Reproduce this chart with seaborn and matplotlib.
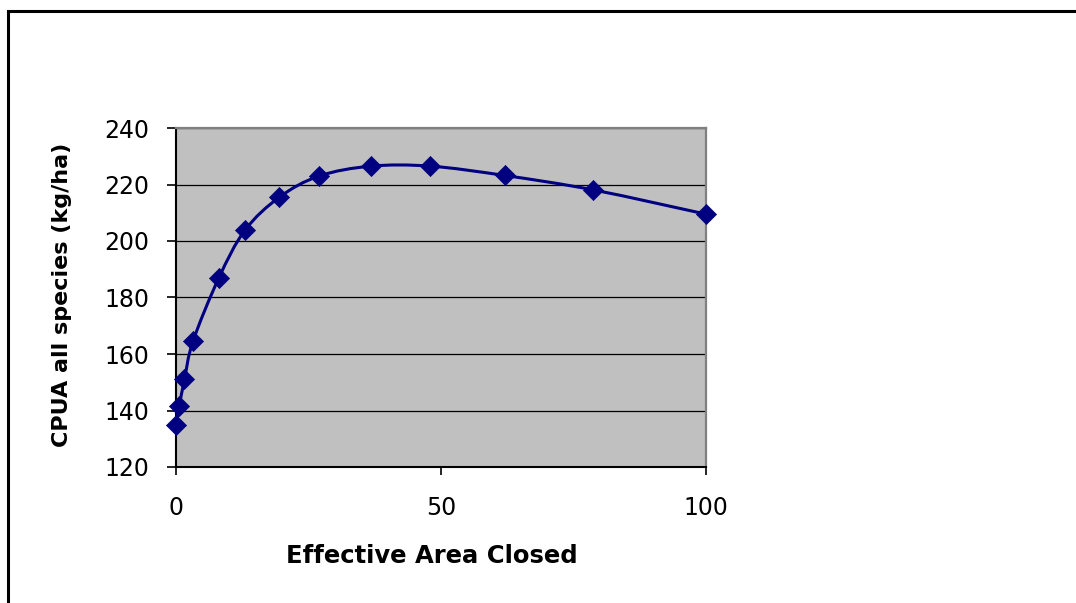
import numpy as np
import pandas as pd
import matplotlib
matplotlib.use("Agg")
import matplotlib.pyplot as plt
from matplotlib.path import Path
from matplotlib.patches import PathPatch
from matplotlib.lines import Line2D
import seaborn as sns

# Catch per unit area versus the share of fishing area closed
area_closed = [0, 0.6, 1.6, 3.2, 8.1, 13.0, 19.5, 27.0, 36.8, 48.0, 62.0, 78.7, 100.0]
cpua = [135, 141.5, 151, 164.5, 187, 203.8, 215.5, 223, 226.5, 226.5, 223.2, 218.1, 209.5]

x_ticks = [0, 50, 100]
y_ticks = [120, 140, 160, 180, 200, 220, 240]

x_label = "Effective Area Closed"
y_label = "CPUA all species (kg/ha)"

df = pd.DataFrame({"area": area_closed, "cpua": cpua})

sns.set_style("white")
plt.rcParams["font.family"] = ["DejaVu Sans"]
plt.rcParams["text.color"] = "black"
plt.rcParams["xtick.color"] = "black"
plt.rcParams["ytick.color"] = "black"
plt.rcParams["axes.labelcolor"] = "black"

NAVY = "#000080"

fig = plt.figure(figsize=(10.76, 6.03), dpi=100)
fig.patch.set_facecolor("white")
ax = fig.add_axes([176 / 1076, 1 - 467 / 603, 530 / 1076, 339 / 603])
ax.set_facecolor("#C0C0C0")

# smoothed connecting curve (Catmull-Rom style cubic Bezier through the points)
pts = df[["area", "cpua"]].to_numpy(dtype=float)
n = len(pts)
verts = [pts[0]]
codes = [Path.MOVETO]
for i in range(n - 1):
    p0 = pts[i - 1] if i > 0 else pts[i]
    p1 = pts[i]
    p2 = pts[i + 1]
    p3 = pts[i + 2] if i + 2 < n else pts[i + 1]
    verts += [p1 + (p2 - p0) / 6.0, p2 - (p3 - p1) / 6.0, p2]
    codes += [Path.CURVE4] * 3
ax.add_patch(PathPatch(Path(verts, codes), facecolor="none", edgecolor=NAVY,
                       linewidth=2.2, transform=ax.transData, zorder=3))

sns.scatterplot(data=df, x="area", y="cpua", marker="D", s=105, color=NAVY,
                edgecolor=NAVY, linewidth=0.5, ax=ax, zorder=4, legend=False,
                clip_on=False)

ax.set_xlim(0, 100)
ax.set_ylim(120, 240)
ax.set_xticks(x_ticks)
ax.set_yticks(y_ticks)
ax.set_xticklabels([str(t) for t in x_ticks])
ax.set_yticklabels([str(t) for t in y_ticks])

# horizontal gridlines only
ax.yaxis.grid(True, color="black", linewidth=0.9)
ax.xaxis.grid(False)
ax.set_axisbelow(True)

for side in ("left", "bottom"):
    ax.spines[side].set_color("black")
    ax.spines[side].set_linewidth(1.5)
for side in ("top", "right"):
    ax.spines[side].set_color("#808080")
    ax.spines[side].set_linewidth(1.6)
    ax.spines[side].set_visible(True)

ax.tick_params(axis="y", direction="out", length=6.5, width=1.2, color="black",
               labelcolor="black", pad=12.5, labelsize=17, left=True)
ax.tick_params(axis="x", direction="out", length=6, width=1.2, color="black",
               labelcolor="black", pad=15, labelsize=17, bottom=True)

ax.set_xlabel("")
ax.set_ylabel("")

fig.text(432 / 1076, 1 - 563 / 603, x_label, fontsize=17.5, fontweight="bold",
         color="black", ha="center", va="baseline")
fig.text(62 / 1076, 1 - 295 / 603, y_label, fontsize=16, fontweight="bold",
         color="black", rotation=90, ha="center", va="center")

# outer chart frame (top and left edges)
fx = 7.5 / 1076
fy = 1 - 10.5 / 603
fig.add_artist(Line2D([fx, fx, 1.0], [0.0, fy, fy], transform=fig.transFigure,
                      color="black", linewidth=2.2, solid_joinstyle="miter"))

fig.savefig("out.png", dpi=100, facecolor="white")
